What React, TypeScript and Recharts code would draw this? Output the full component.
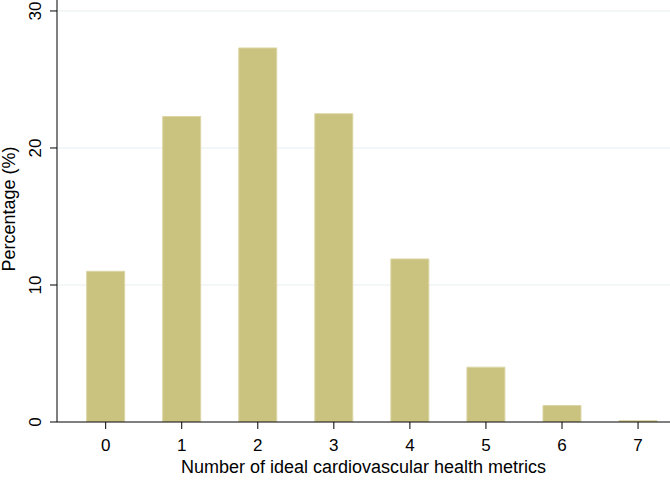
import React from 'react';
import { BarChart, Bar, XAxis, YAxis, CartesianGrid } from 'recharts';

const metrics = [0, 1, 2, 3, 4, 5, 6, 7];
const percentages = [11.0, 22.3, 27.3, 22.5, 11.9, 4.0, 1.2, 0.1];
const yTicks = [0, 10, 20, 30];
const xTitle = 'Number of ideal cardiovascular health metrics';
const yTitle = 'Percentage (%)';

const data = metrics.map((m, i) => ({ metric: m, pct: percentages[i] }));

const FONT = '"Liberation Sans", Arial, Helvetica, sans-serif';

const YTick = (props: any) => {
  const { y, payload } = props;
  return (
    <text
      x={0}
      y={0}
      transform={`translate(41, ${y}) rotate(-90)`}
      textAnchor="middle"
      fontSize={17}
      fontFamily={FONT}
      fill="#000"
    >
      {payload.value}
    </text>
  );
};

const XTick = (props: any) => {
  const { x, y, payload } = props;
  return (
    <text x={x} y={y + 20} textAnchor="middle" fontSize={17} fontFamily={FONT} fill="#000">
      {payload.value}
    </text>
  );
};

const XTitle = () => (
  <text x={363.5} y={473} textAnchor="middle" fontSize={18} fontFamily={FONT} fill="#000">
    {xTitle}
  </text>
);

const YTitle = () => (
  <text
    x={0}
    y={0}
    transform="translate(15, 209) rotate(-90)"
    textAnchor="middle"
    fontSize={18}
    fontFamily={FONT}
    fill="#000"
  >
    {yTitle}
  </text>
);

export default function App() {
  return (
    <div style={{ position: 'absolute', left: 0, top: 0, width: 670, height: 480, background: '#fff' }}>
      <BarChart
        width={670}
        height={480}
        data={data}
        margin={{ top: 0, right: 0, bottom: 0, left: 0 }}
      >
        <CartesianGrid vertical={false} horizontalValues={[10, 20, 30]} stroke="#E8EFF1" strokeWidth={1} />
        <XAxis
          dataKey="metric"
          type="number"
          domain={[-0.64, 7.42]}
          ticks={metrics}
          allowDataOverflow
          height={58}
          stroke="#000"
          tickSize={7}
          tickLine={{ stroke: '#000' }}
          tick={<XTick />}
          label={<XTitle />}
        />
        <YAxis
          type="number"
          domain={[0, 30.8]}
          ticks={yTicks}
          allowDataOverflow
          width={57}
          stroke="#000"
          tickSize={7}
          tickLine={{ stroke: '#000' }}
          tick={<YTick />}
          label={<YTitle />}
        />
        <Bar
          dataKey="pct"
          fill="#CAC27F"
          stroke="#DCD6A6"
          strokeWidth={1}
          barSize={38}
          isAnimationActive={false}
        />
      </BarChart>
    </div>
  );
}
